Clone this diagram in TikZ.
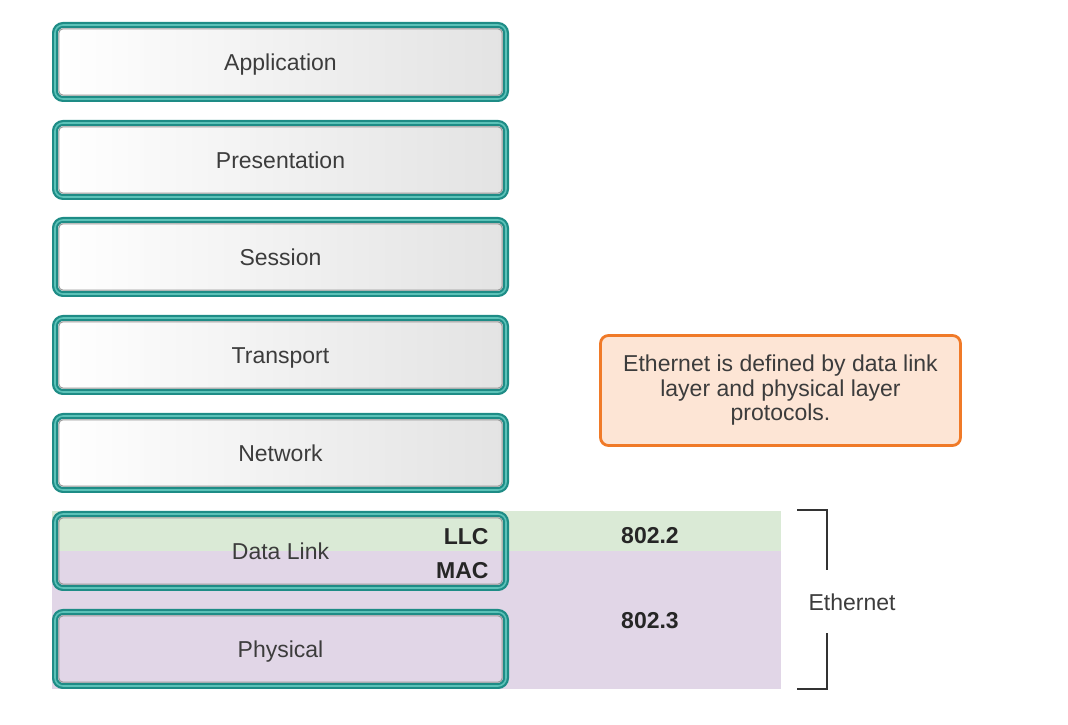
\documentclass[tikz,border=0pt]{standalone}
\usepackage{fontspec}
\setmainfont{Liberation Sans}
\usepackage{tikz}
\definecolor{tealdark}{RGB}{30,140,134}
\definecolor{teallight}{RGB}{92,194,184}
\definecolor{llcgreen}{RGB}{218,234,214}
\definecolor{macpurple}{RGB}{225,214,231}
\definecolor{noteorange}{RGB}{240,122,40}
\definecolor{notefill}{RGB}{253,229,213}
\definecolor{inkgray}{RGB}{60,60,60}
\tikzset{
  layer/.style={draw=tealdark, double=teallight, double distance=1.6pt, line width=2.2pt,
    rounded corners=8pt, minimum width=451pt, minimum height=74pt,
    text height=16.5pt, text depth=0pt,
    text=inkgray, font=\fontsize{23}{25}\selectfont},
  shaded layer/.style={layer, left color=white, right color=black!11},
  rim/.style={draw=black!40, line width=1pt, rounded corners=4pt},
  tag/.style={text=black!85, font=\fontsize{23}{25}\selectfont\bfseries},
  note/.style={draw=noteorange, line width=2.8pt, fill=notefill, rounded corners=8pt,
    minimum width=360pt, minimum height=110pt, align=center, text=inkgray,
    font=\fontsize{23}{24.5}\selectfont},
  brace/.style={draw=black!80, line width=1.4pt}
}
\begin{document}
\begin{tikzpicture}[x=1pt,y=1pt]
\useasboundingbox (0,0) rectangle (1068,725);
% bands behind data link and physical
\fill [llcgreen] (52,214) rectangle (781,174);
\fill [macpurple] (52,174) rectangle (781,36);

% OSI layers
\node [shaded layer] (app) at (280.5,663) {Application};
\node [shaded layer] (pres) at (280.5,565) {Presentation};
\node [shaded layer] (sess) at (280.5,468) {Session};
\node [shaded layer] (trans) at (280.5,370) {Transport};
\node [shaded layer] (net) at (280.5,272) {Network};
\node [layer] (dlink) at (280.5,174) {Data Link};
\node [layer] (phys) at (280.5,76) {Physical};

\foreach \n in {app,pres,sess,trans,net,dlink,phys}
  \draw [rim] ([shift={(5pt,-5pt)}]\n.north west) rectangle ([shift={(-5pt,5pt)}]\n.south east);

% sublayers
\node [tag, anchor=east] (llc) at (492,188) {LLC};
\node [tag, anchor=east] (mac) at (492,154) {MAC};
\node [tag] (ieee2) at (650,189) {802.2};
\node [tag] (ieee3) at (650,104) {802.3};

% bracket
\coordinate (bt) at (797,215);
\coordinate (btm) at (827,155);
\coordinate (bb) at (797,36);
\coordinate (bbm) at (827,92);
\draw [brace] (bt) -| (btm);
\draw [brace] (bb) -| (bbm);
\node [text=inkgray, font=\fontsize{23}{25}\selectfont] (eth) at (852,123) {Ethernet};

% note
\node [note] (info) at (780.5,334.5) {Ethernet is defined by data link\\layer and physical layer\\protocols.};
\end{tikzpicture}
\end{document}
